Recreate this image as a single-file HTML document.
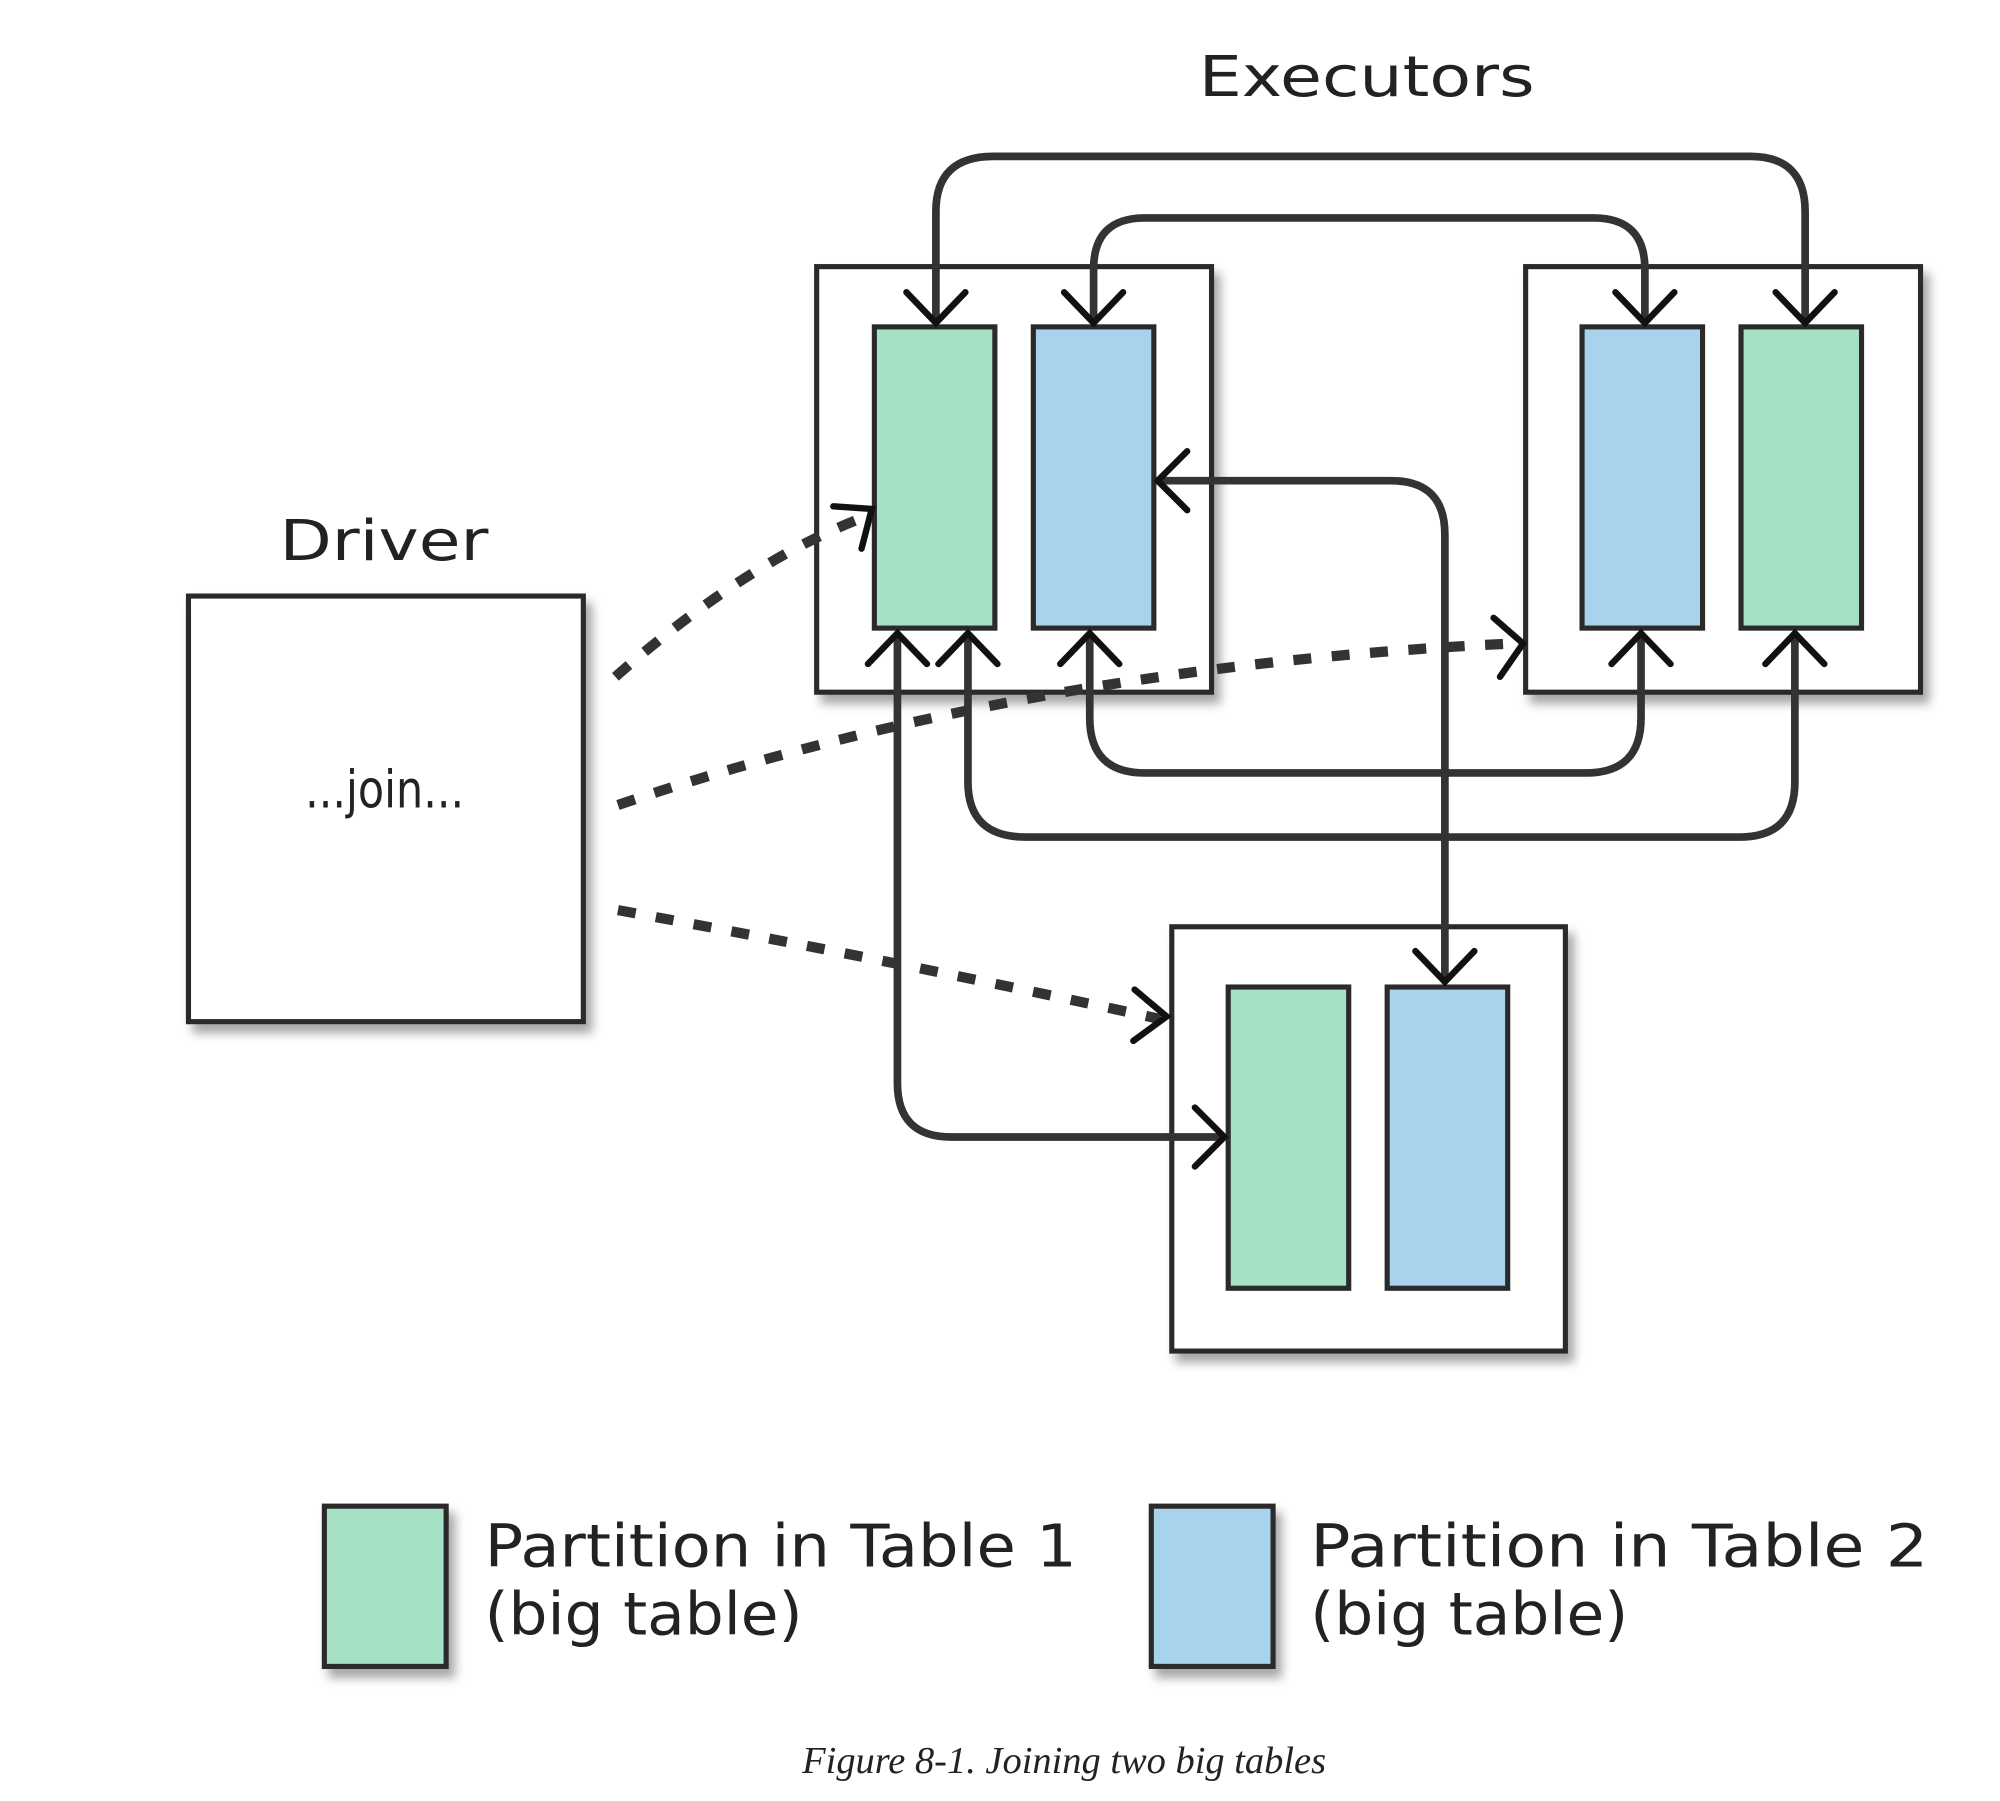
<!DOCTYPE html>
<html><head><meta charset="utf-8"><style>html,body{margin:0;padding:0;background:#fff}svg{display:block}</style></head>
<body>
<svg width="2000" height="1801" viewBox="0 0 1560 1405" preserveAspectRatio="none" xmlns="http://www.w3.org/2000/svg">
<defs>
<filter id="sh" x="-20%" y="-20%" width="150%" height="150%">
<feDropShadow dx="5" dy="7" stdDeviation="4" flood-color="#000" flood-opacity="0.35"/>
</filter>
</defs>
<rect width="1560" height="1405" fill="#fff"/>
<g stroke="#2a2a2a" stroke-width="4" filter="url(#sh)">
<rect x="147" y="465" width="308" height="332" fill="#fff"/>
<rect x="637" y="208" width="308" height="332" fill="#fff"/>
<rect x="1190" y="208" width="308" height="332" fill="#fff"/>
<rect x="914" y="723" width="307" height="331" fill="#fff"/>
<rect x="682" y="255" width="94" height="235" fill="#a6e0c5"/>
<rect x="806" y="255" width="94" height="235" fill="#a8d3ec"/>
<rect x="1234" y="255" width="94" height="235" fill="#a8d3ec"/>
<rect x="1358" y="255" width="94" height="235" fill="#a6e0c5"/>
<rect x="958" y="770" width="94" height="235" fill="#a6e0c5"/>
<rect x="1082" y="770" width="94" height="235" fill="#a8d3ec"/>
<rect x="253" y="1175" width="95" height="125" fill="#a6e0c5"/>
<rect x="898" y="1175" width="95" height="125" fill="#a8d3ec"/>
</g>
<g font-family="'DejaVu Sans','Liberation Sans',sans-serif" fill="#222">
<text x="935" y="75" font-size="44" textLength="262" lengthAdjust="spacingAndGlyphs">Executors</text>
<text x="218" y="437" font-size="44" textLength="163" lengthAdjust="spacingAndGlyphs">Driver</text>
<text x="238" y="630" font-size="40" textLength="124" lengthAdjust="spacingAndGlyphs">...join...</text>
<text x="378" y="1222" font-size="46" textLength="462" lengthAdjust="spacingAndGlyphs">Partition in Table 1</text>
<text x="378" y="1275" font-size="46" textLength="248" lengthAdjust="spacingAndGlyphs">(big table)</text>
<text x="1022" y="1222" font-size="46" textLength="482" lengthAdjust="spacingAndGlyphs">Partition in Table 2</text>
<text x="1022" y="1275" font-size="46" textLength="248" lengthAdjust="spacingAndGlyphs">(big table)</text>
</g>
<text x="830" y="1383" font-family="'Liberation Serif',serif" font-style="italic" font-size="30" text-anchor="middle" fill="#222">Figure 8-1. Joining two big tables</text>
<g fill="none" stroke="#333" stroke-width="6" stroke-linecap="round">
<path d="M730 250 V165 Q730 122 775 122 H1365 Q1408 122 1408 165 V250"/>
<path d="M853 250 V210 Q853 170 893 170 H1243 Q1283 170 1283 210 V250"/>
<path d="M850 495 V560 Q850 603 893 603 H1237 Q1280 603 1280 560 V495"/>
<path d="M755 495 V610 Q755 653 800 653 H1357 Q1400 653 1400 610 V495"/>
<path d="M903 375 H1085 Q1127 375 1127 417 V765"/>
<path d="M700 495 V845 Q700 887 742 887 H952"/>
</g>
<g fill="none" stroke="#333" stroke-width="8" stroke-dasharray="14 16">
<path d="M480 528 Q580 440 670 405"/>
<path d="M482 628 Q800 520 1180 502"/>
<path d="M482 710 Q700 750 905 795"/>
</g>
<g fill="none" stroke="#111" stroke-width="5" stroke-linecap="round" stroke-linejoin="miter">
<path d="M707 228 L730 252 L753 228"/>
<path d="M830 228 L853 252 L876 228"/>
<path d="M1260 228 L1283 252 L1306 228"/>
<path d="M1385 228 L1408 252 L1431 228"/>
<path d="M677 518 L700 494 L723 518"/>
<path d="M732 518 L755 494 L778 518"/>
<path d="M827 518 L850 494 L873 518"/>
<path d="M1257 518 L1280 494 L1303 518"/>
<path d="M1377 518 L1400 494 L1423 518"/>
<path d="M926 352 L903 375 L926 398"/>
<path d="M1104 742 L1127 766 L1150 742"/>
<path d="M932 864 L955 887 L932 910"/>
<path d="M650 395 L680 397 L672 428"/>
<path d="M1165 482 L1188 502 L1170 528"/>
<path d="M885 772 L910 793 L884 812"/>
</g>
</svg>
</body></html>
